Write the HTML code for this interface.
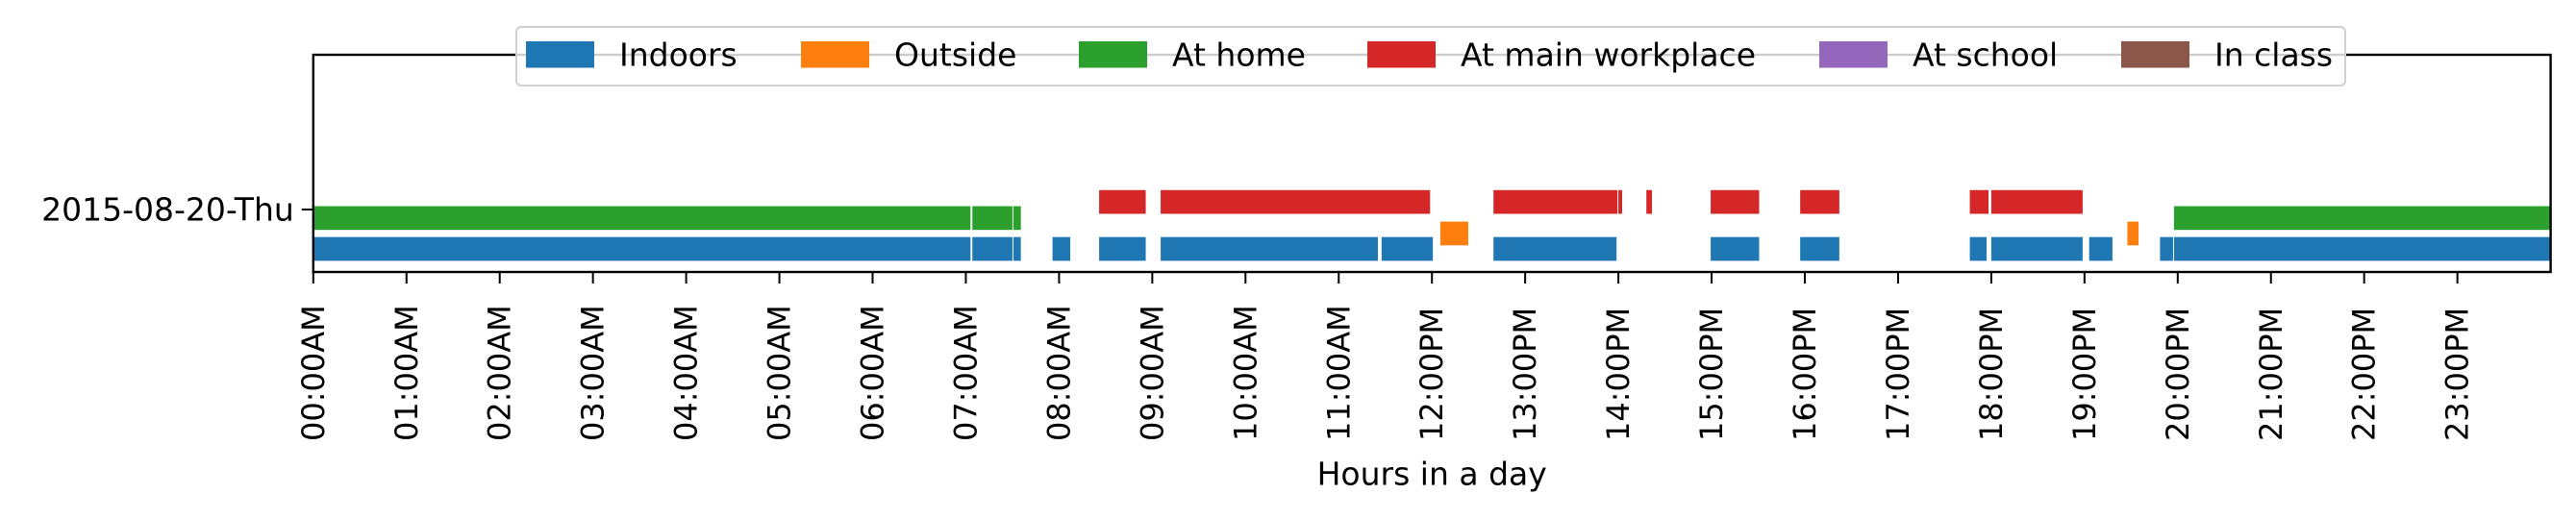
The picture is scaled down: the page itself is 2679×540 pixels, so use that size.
<!DOCTYPE html>
<html><head><meta charset="utf-8"><style>
html,body{margin:0;padding:0;background:#fff;}
svg{display:block;font-family:"DejaVu Sans","Liberation Sans",sans-serif;}
</style></head><body>
<svg id="chart" width="2679" height="540" viewBox="0 0 2679 540" xmlns="http://www.w3.org/2000/svg">
<g id="marks"></g>
<g id="axes"></g>
<g id="legend"></g>
</svg>
<script>
const categories = ["Indoors","Outside","At home","At main workplace","At school","In class"];
const colors = ["#1f77b4","#ff7f0e","#2ca02c","#d62728","#9467bd","#8c564b"];
const dayLabel = "2015-08-20-Thu";
const indoorsStart = [0,7.07,7.51,7.93,8.43,9.09,11.46,12.66,14.99,15.95,17.77,18.0,19.05,19.81,19.96];
const indoorsEnd   = [7.05,7.50,7.59,8.12,8.93,11.42,12.01,13.98,15.51,16.37,17.95,18.98,19.30,19.95,24];
const outsideStart = [12.09,19.46];
const outsideEnd   = [12.39,19.58];
const homeStart = [0,7.07,7.51,19.96];
const homeEnd   = [7.05,7.50,7.59,24];
const workStart = [8.43,9.09,12.66,14.0,14.30,14.99,15.95,17.77,18.0];
const workEnd   = [8.93,11.98,13.99,14.04,14.36,15.51,16.37,17.97,18.98];
const schoolStart = [];
const schoolEnd = [];
const classStart = [];
const classEnd = [];
const tickHours = [0,1,2,3,4,5,6,7,8,9,10,11,12,13,14,15,16,17,18,19,20,21,22,23];
const tickLabels = ["00:00AM","01:00AM","02:00AM","03:00AM","04:00AM","05:00AM","06:00AM","07:00AM","08:00AM","09:00AM","10:00AM","11:00AM","12:00PM","13:00PM","14:00PM","15:00PM","16:00PM","17:00PM","18:00PM","19:00PM","20:00PM","21:00PM","22:00PM","23:00PM"];

const NS="http://www.w3.org/2000/svg";
const L=325.8,R=2652.6,T=57,B=283;
const X=h=>L+(R-L)*h/24;
const rowY=218, unit=32.8, barH=24.7;
const Y=off=>rowY-off*unit;
function mk(tag,attrs,parent){const e=document.createElementNS(NS,tag);for(const k in attrs)e.setAttribute(k,attrs[k]);parent.appendChild(e);return e;}
const marks=document.getElementById('marks'),axes=document.getElementById('axes'),legend=document.getElementById('legend');
const centers=[Y(-1.25),Y(-0.76),Y(-0.27),Y(0.24),Y(0.24),Y(0.24)];
const series=[[indoorsStart,indoorsEnd],[outsideStart,outsideEnd],[homeStart,homeEnd],[workStart,workEnd],[schoolStart,schoolEnd],[classStart,classEnd]];
series.forEach((s,si)=>{
  s[0].forEach((st,i)=>{
    const r=mk('rect',{x:X(st),y:centers[si]-barH/2,width:X(s[1][i])-X(st),height:barH,fill:colors[si]},marks);
    
    
  });
});
const fr=mk('rect',{x:L,y:T,width:R-L,height:B-T,fill:'none',stroke:'#000','stroke-width':2.4},axes);


mk('line',{x1:L-12,y1:rowY,x2:L,y2:rowY,stroke:'#000','stroke-width':2},axes);
const yl=mk('text',{x:L-20,y:rowY,'text-anchor':'end','dominant-baseline':'central','font-size':33},axes);
yl.textContent=dayLabel;


tickHours.forEach((h,i)=>{
  mk('line',{x1:X(h),y1:B,x2:X(h),y2:B+12,stroke:'#000','stroke-width':2},axes);
  const t=mk('text',{x:0,y:0,'text-anchor':'end','dominant-baseline':'central','font-size':32,transform:`translate(${X(h)},${B+36}) rotate(-90)`},axes);
  t.setAttribute('transform',`translate(${X(h)},${B+36}) rotate(-90) translate(-140,0)`);
  t.setAttribute('text-anchor','start');
  t.textContent=tickLabels[i];
  
  
});
const xt=mk('text',{x:(L+R)/2,y:493,'text-anchor':'middle','dominant-baseline':'central','font-size':33},axes);
xt.textContent="Hours in a day";


const lb=mk('rect',{x:537,y:28,width:1902,height:61,rx:5,fill:'rgba(255,255,255,0.8)',stroke:'#d0d0d0','stroke-width':2},legend);


const patchX=[547,833,1122,1422,1892,2206];
categories.forEach((c,i)=>{
  const g=mk('g',{},legend);
  
  
  mk('rect',{x:patchX[i],y:43,width:71,height:27.5,fill:colors[i]},g);
  const t=mk('text',{x:patchX[i]+97,y:57,'dominant-baseline':'central','font-size':33},g);
  t.textContent=c;
});
</script>
</body></html>
